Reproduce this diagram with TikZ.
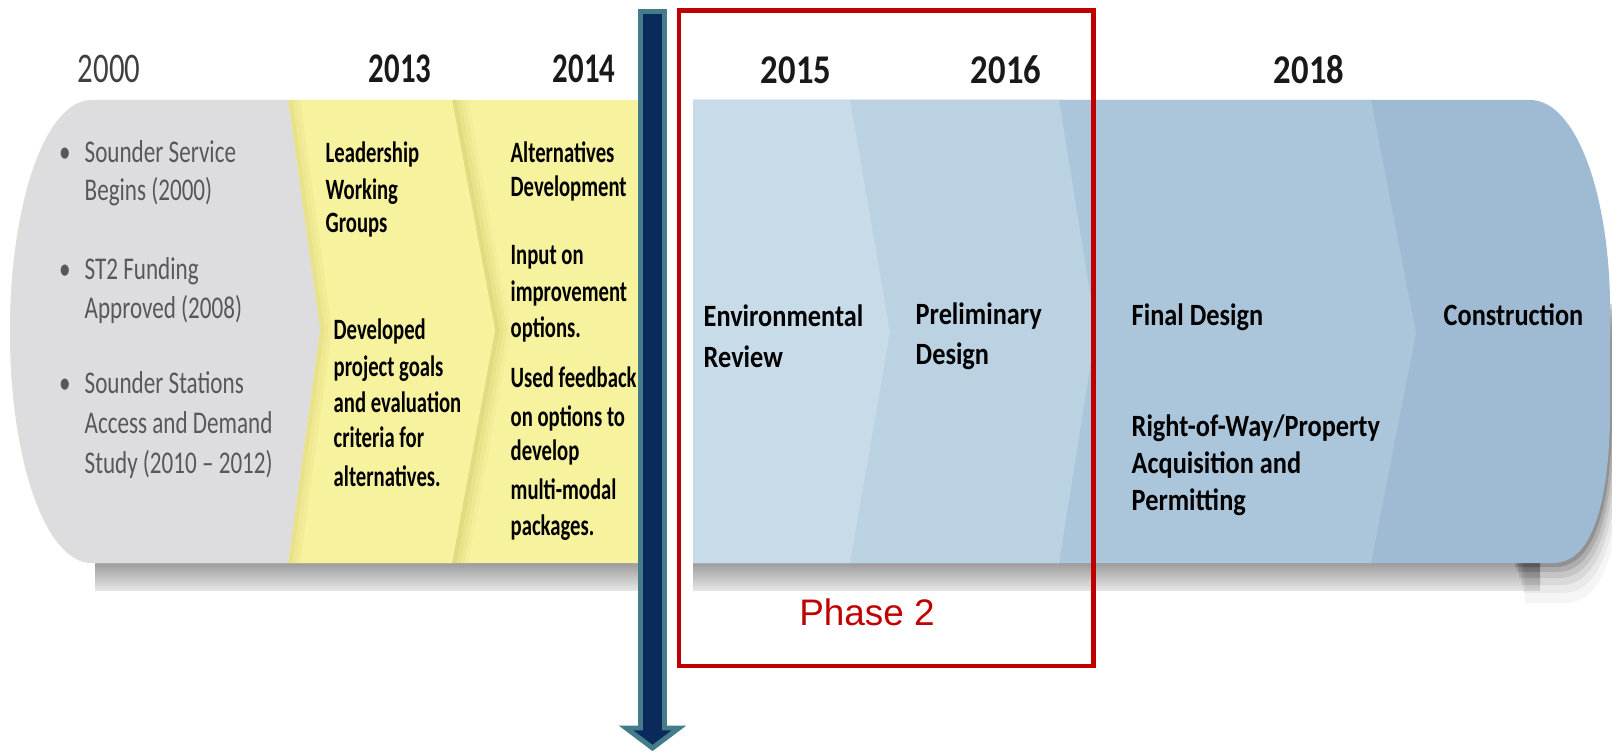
\documentclass[tikz,border=0pt]{standalone}
\usepackage{fontspec}
\newfontfamily\grayfont[FakeStretch=0.73]{Carlito}
\newfontfamily\yellowfont[FakeStretch=0.70]{Carlito}
\newfontfamily\bluefont[FakeStretch=0.85]{Carlito}
\newfontfamily\phasefont{Liberation Sans}
\usepackage{tikz}
\usetikzlibrary{positioning}
\usetikzlibrary{calc}
\definecolor{bandgray}{RGB}{221,221,224}
\definecolor{bandyellow}{RGB}{247,242,158}
\definecolor{yellowshade}{RGB}{200,192,95}
\definecolor{blueA}{RGB}{200,219,233}
\definecolor{blueB}{RGB}{187,210,227}
\definecolor{blueC}{RGB}{171,198,219}
\definecolor{blueD}{RGB}{158,187,211}
\definecolor{arrownavy}{RGB}{11,42,92}
\definecolor{arrowedge}{RGB}{68,124,138}
\definecolor{phasered}{RGB}{192,0,0}
\definecolor{graytxt}{RGB}{88,88,88}
\tikzstyle{graytext}=[anchor=base west,inner sep=0pt,text=graytxt,font=\grayfont\fontsize{9}{11}\selectfont]
\tikzstyle{yellowtext}=[anchor=base west,inner sep=0pt,font=\yellowfont\bfseries\fontsize{8.4}{10}\selectfont]
\tikzstyle{bluetext}=[anchor=base west,inner sep=0pt,font=\bluefont\bfseries\fontsize{8.8}{10.5}\selectfont]
\tikzstyle{yearleft}=[anchor=base,inner sep=0pt,text=black!90,font=\grayfont\bfseries\fontsize{12}{14}\selectfont]
\tikzstyle{yearright}=[anchor=base,inner sep=0pt,text=black!90,font=\bluefont\bfseries\fontsize{11.6}{14}\selectfont]
\tikzstyle{bandshadow}=[top color=black!42,bottom color=black!10]
\tikzstyle{arrowbody}=[draw=arrowedge,fill=arrownavy,line width=1.4pt,line join=miter]
\begin{document}
\begin{tikzpicture}[x=0.01cm,y=-0.01cm]

  \def\yt{100}
  \def\yb{563}

  \useasboundingbox (0,0) rectangle (1612,755);

  % shadow under the band
  \shade[bandshadow] (95,560) rectangle (638,590);
  \shade[bandshadow] (693,560) rectangle (1540,590);
  \foreach \sx/\sy/\op in {2/4/0.16, 4/9/0.12, 6/15/0.09, 8/22/0.07, 10/30/0.05, 12/40/0.04}
     \fill[black, opacity=\op, shift={(\sx,\sy)}] (1513,300) -- (1610,300) -- (1610,420)
        .. controls (1608,510) and (1590,\yb) .. (1553,\yb) -- (1513,\yb) -- cycle;

  % left part: gray and yellow
  \fill[bandyellow] (92,\yb) .. controls (45,\yb) and (10,459) .. (10,331.5)
        .. controls (10,204) and (45,\yt) .. (92,\yt) -- (650,\yt) -- (650,\yb) -- cycle;
  \foreach \d/\op in {2/0.45, 6/0.3, 10/0.18, 14/0.08}
     \draw[yellowshade, line width=1.2pt, opacity=\op] (452+\d,\yt) -- (495+\d,330) -- (452+\d,\yb);
  \fill[bandyellow] (288,\yt) -- (452,\yt) -- (495,330) -- (452,\yb) -- (288,\yb) -- (320,330) -- cycle;
  \foreach \d/\op in {2/0.3, 6/0.18, 10/0.1}
     \draw[yellowshade, line width=1.2pt, opacity=\op] (288+\d,\yt) -- (320+\d,330) -- (288+\d,\yb);
  \fill[bandgray] (92,\yb) .. controls (45,\yb) and (10,459) .. (10,331.5)
        .. controls (10,204) and (45,\yt) .. (92,\yt) -- (288,\yt) -- (320,330) -- (288,\yb) -- cycle;

  % right part: blue steps
  \fill[blueD] (693,\yt) -- (1530,\yt) .. controls (1575,\yt) and (1608,190) .. (1610,300) -- (1610,420)
        .. controls (1608,510) and (1590,\yb) .. (1553,\yb) -- (693,\yb) -- cycle;
  \fill[blueC] (693,\yt) -- (1371,\yt) -- (1416,333) -- (1371,\yb) -- (693,\yb) -- cycle;
  \fill[blueB] (693,\yt) -- (1059,\yt) -- (1096,330) -- (1059,\yb) -- (693,\yb) -- cycle;
  \fill[blueA] (693,\yt) -- (850,\yt) -- (890,332) -- (850,\yb) -- (693,\yb) -- cycle;

  % years
  \node[yearleft, font=\grayfont\fontsize{12}{14}\selectfont, text=black!75] (y2000) at (109,83) {2000};
  \foreach \x/\yr in {400/2013, 584/2014}
     \node[yearleft] (y\yr) at (\x,83) {\yr};
  \foreach \x/\yr in {796/2015, 1006/2016, 1309/2018}
     \node[yearright] (y\yr) at (\x,84) {\yr};

  % 2000 column
  \foreach \y [count=\i] in {163, 280, 394}
     \node[graytext, anchor=base] (bul\i) at (65,\y) {\textbullet};
  \foreach \y/\txt [count=\i] in {163/Sounder Service, 201/Begins (2000), 280/ST2 Funding,
        319/Approved (2008), 394/Sounder Stations, 434/Access and Demand, 474/{Study (2010 – 2012)}}
     \node[graytext] (gray\i) at (84,\y) {\txt};

  % 2013 column
  \foreach \y/\txt [count=\i] in {163/Leadership, 200/Working, 233/Groups}
     \node[yellowtext] (lead\i) at (325,\y) {\txt};
  \foreach \y/\txt [count=\i] in {340/Developed, 377/project goals, 413/and evaluation,
        448/criteria for, 487/alternatives.}
     \node[yellowtext] (devel\i) at (333,\y) {\txt};

  % 2014 column
  \foreach \y/\txt [count=\i] in {163/Alternatives, 197/Development, 265/Input on, 302/improvement,
        338/options., 388/Used feedback, 426/on options to, 461/develop, 499/multi-modal, 535/packages.}
     \node[yellowtext] (alt\i) at (510,\y) {\txt};

  % blue columns
  \foreach \x/\y/\txt [count=\i] in {703/327/Environmental, 703/368/Review, 915/325/Preliminary,
        915/365/Design, 1131/326/Final Design, 1131/437/{Right-of-Way/Property},
        1131/474/Acquisition and, 1131/511/Permitting, 1443/326/Construction}
     \node[bluetext] (step\i) at (\x,\y) {\txt};

  % today marker
  \draw[arrowbody] (640.5,11.5) -- (664.5,11.5) -- (664.5,728) -- (679,728) -- (652.5,748)
        -- (626,728) -- (640.5,728) -- cycle;

  % phase 2 frame
  \draw[phasered, line width=1.2pt] (679,10.5) rectangle (1093.5,666);
  \node[anchor=base, inner sep=0pt, text=phasered, font=\phasefont\fontsize{10.5}{12}\selectfont] (phase) at (867,625) {Phase 2};

\end{tikzpicture}
\end{document}
